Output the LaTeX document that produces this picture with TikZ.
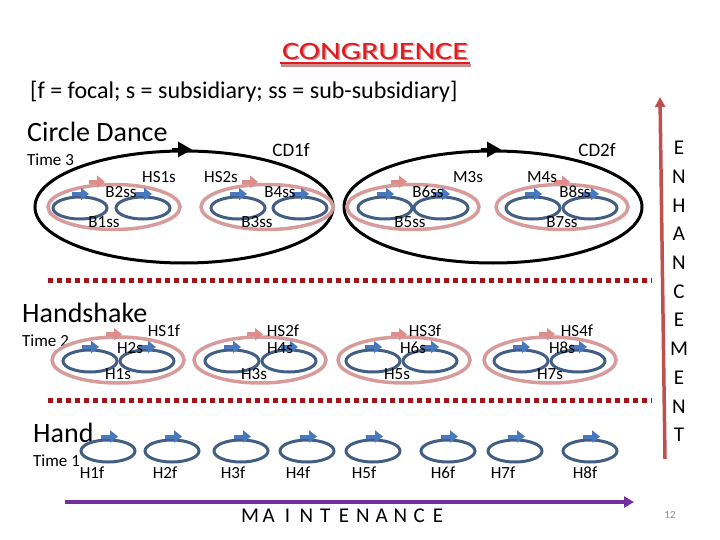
\documentclass[tikz,border=0pt]{standalone}
\usepackage{fontspec}
\usepackage{graphicx}
\setmainfont{Carlito}[Numbers=Lining]
\usetikzlibrary{shapes.geometric,arrows.meta}
\definecolor{bluedark}{RGB}{66,94,132}
\definecolor{bluelight}{RGB}{72,120,190}
\definecolor{pinkc}{RGB}{215,155,155}
\definecolor{pinkarrc}{RGB}{222,140,140}
\definecolor{dashred}{RGB}{165,20,25}
\definecolor{purplec}{RGB}{112,48,160}
\definecolor{enhc}{RGB}{190,80,78}
\definecolor{titlered}{RGB}{222,28,32}
\definecolor{shadowc}{RGB}{205,140,140}
\tikzset{
  blueell/.style={ellipse, draw=bluedark, line width=3pt, minimum width=54pt, minimum height=22pt, inner sep=0pt},
  pinkell/.style={ellipse, draw=pinkc, line width=3.5pt, minimum width=132pt, minimum height=45pt, inner sep=0pt},
  bigell/.style={ellipse, draw=black, line width=3pt, minimum width=298pt, minimum height=112pt, inner sep=0pt},
  bluearr/.style={draw=bluelight, line width=4pt, -{Triangle[length=8pt,width=12pt]}},
  pinkarr/.style={draw=pinkarrc, line width=4pt, -{Triangle[length=8pt,width=12pt]}},
  lbl/.style={font=\fontsize{17}{17}\selectfont, inner sep=0pt, text height=11pt, text depth=1pt},
  biglbl/.style={font=\fontsize{19}{19}\selectfont, inner sep=0pt},
  sect/.style={font=\fontsize{28}{28}\selectfont, inner sep=0pt, anchor=west},
  timelbl/.style={font=\fontsize{17}{17}\selectfont, inner sep=0pt, anchor=west},
  dashline/.style={draw=dashred, line width=5pt, dash pattern=on 5pt off 4pt},
  spaced/.style={font=\fontsize{21}{21}\selectfont, inner sep=0pt},
}
\begin{document}
\begin{tikzpicture}[x=1pt,y=-1pt]
\useasboundingbox (0,0) rectangle (720,540);

% title
\node[font=\fontsize{25}{25}\selectfont, text=shadowc, inner sep=0pt] (titleshadow) at (376.5,52.5) {\scalebox{1.28}[1]{CONGRUENCE}};
\node[font=\fontsize{25}{25}\selectfont, text=titlered, inner sep=0pt] (title) at (375,51) {\scalebox{1.28}[1]{CONGRUENCE}};
\draw[shadowc, line width=2.5pt] (281,65.5) -- (471,65.5);
\draw[titlered, line width=2.5pt] (280,63) -- (470,63);

\node[font=\fontsize{24}{24}\selectfont, inner sep=0pt, anchor=west] (legend) at (30,92) {[f = focal; s = subsidiary; ss = sub-subsidiary]};

% Circle dance
\node[sect] (cdtitle) at (27,132) {Circle Dance};
\node[timelbl] (t3) at (27,160) {Time 3};
\node[bigell] (cd1) at (184,207) {};
\node[bigell] (cd2) at (493,207) {};
\draw[line width=3pt, -{Triangle[length=14pt,width=15pt]}] ([xshift=-12pt]cd1.north) -- ([xshift=8pt]cd1.north);
\draw[line width=3pt, -{Triangle[length=14pt,width=15pt]}] ([xshift=-12pt]cd2.north) -- ([xshift=8pt]cd2.north);
\node[biglbl] (cd1l) at (291,150) {CD1f};
\node[biglbl] (cd2l) at (597,150) {CD2f};

\foreach \i/\p/\l/\r/\t in {1/114/80/143/-9, 2/267/238/300/-9, 3/413/385/441/-6, 4/562/533/590/8} {
  \node[pinkell] (cp\i) at (\p,207) {};
  \node[blueell] (cbl\i) at (\l,208) {};
  \node[blueell] (cbr\i) at (\r,208) {};
  \draw[pinkarr] ([xshift={(\t-16)*1pt},yshift=1pt]cp\i.north) -- ([xshift={\t*1pt},yshift=1pt]cp\i.north);
  \draw[bluearr] ([xshift=-8pt,yshift=1.5pt]cbl\i.north) -- ([xshift=9pt,yshift=1.5pt]cbl\i.north);
  \draw[bluearr] ([xshift=-8pt,yshift=1.5pt]cbr\i.north) -- ([xshift=9pt,yshift=1.5pt]cbr\i.north);
}
\node[lbl] (hs1s) at (159,178) {HS1s};
\node[lbl] (hs2s) at (221,178) {HS2s};
\node[lbl] (m3s) at (468,178) {M3s};
\node[lbl] (m4s) at (542,178) {M4s};
\node[lbl] (b2) at (121,193) {B2ss};
\node[lbl] (b1) at (104,222) {B1ss};
\node[lbl] (b4) at (280,193) {B4ss};
\node[lbl] (b3) at (257,222) {B3ss};
\node[lbl] (b6) at (428,193) {B6ss};
\node[lbl] (b5) at (410,222) {B5ss};
\node[lbl] (b8) at (575,193) {B8ss};
\node[lbl] (b7) at (562,222) {B7ss};

% dashed separators
\coordinate (d1a) at (48,280); \coordinate (d1b) at (652,280);
\coordinate (d2a) at (48,400); \coordinate (d2b) at (652,400);
\draw[dashline] (d1a) -- (d1b);
\draw[dashline] (d2a) -- (d2b);

% Handshake
\node[sect] (hstitle) at (22,313) {Handshake};
\node[timelbl] (t2) at (22,341) {Time 2};
\foreach \i/\p/\l/\r/\t in {1/118/90/147/4, 2/260/232/289/3, 3/404/373/430/3, 4/550/521/578/5} {
  \node[pinkell, minimum height=46pt] (hp\i) at (\p,360) {};
  \node[blueell] (hbl\i) at (\l,361) {};
  \node[blueell] (hbr\i) at (\r,361) {};
  \draw[pinkarr] ([xshift={(\t-16)*1pt},yshift=1pt]hp\i.north) -- ([xshift={\t*1pt},yshift=1pt]hp\i.north);
  \draw[bluearr] ([xshift=-8pt,yshift=1.5pt]hbl\i.north) -- ([xshift=9pt,yshift=1.5pt]hbl\i.north);
  \draw[bluearr] ([xshift=-8pt,yshift=1.5pt]hbr\i.north) -- ([xshift=9pt,yshift=1.5pt]hbr\i.north);
}
\node[lbl] (hs1f) at (164,331) {HS1f};
\node[lbl] (hs2f) at (283,331) {HS2f};
\node[lbl] (hs3f) at (425,331) {HS3f};
\node[lbl] (hs4f) at (577,331) {HS4f};
\node[lbl] (h2s) at (130,348) {H2s};
\node[lbl] (h1s) at (118,374) {H1s};
\node[lbl] (h4s) at (280,348) {H4s};
\node[lbl] (h3s) at (254,374) {H3s};
\node[lbl] (h6s) at (413,348) {H6s};
\node[lbl] (h5s) at (397,374) {H5s};
\node[lbl] (h8s) at (562,348) {H8s};
\node[lbl] (h7s) at (550,374) {H7s};

% Hand
\node[sect] (htitle) at (33,433) {Hand};
\node[timelbl] (t1) at (33,461) {Time 1};
\foreach \i/\c/\lx in {1/108/92, 2/172/165, 3/241/233, 4/307/298, 5/373/364, 6/448/443, 7/515/503, 8/590/585} {
  \node[blueell] (hf\i) at (\c,451) {};
  \draw[bluearr] ([xshift=-7pt,yshift=2pt]hf\i.north) -- ([xshift=10pt,yshift=2pt]hf\i.north);
  \node[lbl] (hfl\i) at (\lx,473) {H\i f};
}

% maintenance axis
\coordinate (ma) at (65,502); \coordinate (mb) at (634,502);
\draw[draw=purplec, line width=3.5pt, -{Triangle[length=10pt,width=11pt]}] (ma) -- (mb);
\foreach \ch [count=\k from 0] in {M,A,I,N,T,E,N,A,N,C,E}
  \node[spaced] (mt\k) at (250+\k*18.8,516) {\ch};

% enhancement axis
\coordinate (ea) at (665,459); \coordinate (eb) at (660,97);
\draw[draw=enhc, line width=3.5pt, -{Triangle[length=10pt,width=10pt]}] (ea) -- (eb);
\foreach \ch [count=\k from 0] in {E,N,H,A,N,C,E,M,E,N,T}
  \node[spaced] (en\k) at (679,148+\k*28.7) {\ch};

\node[font=\fontsize{11}{11}\selectfont, text=black!45, inner sep=0pt] (pg) at (670,515) {12};
\end{tikzpicture}
\end{document}
